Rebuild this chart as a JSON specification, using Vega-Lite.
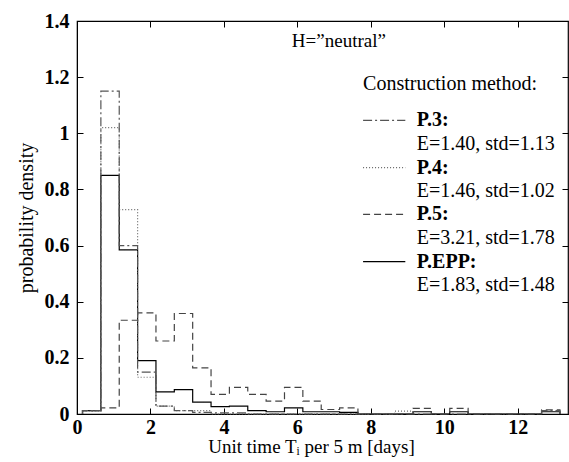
{
  "$schema": "https://vega.github.io/schema/vega-lite/v6.json",
  "width": 491,
  "height": 393,
  "autosize": {"type": "none"},
  "padding": {"left": 77, "top": 21, "right": 1, "bottom": 48},
  "background": "white",
  "config": {
    "view": {"stroke": "black", "strokeWidth": 1.2},
    "font": "Liberation Serif",
    "axis": {"grid": false, "domainColor": "black", "tickColor": "black", "labelColor": "black", "titleColor": "black", "labelFont": "Liberation Serif", "titleFont": "Liberation Serif", "labelFontSize": 20, "labelFontWeight": "bold", "titleFontSize": 19, "titleFontWeight": "normal", "tickSize": -6}
  },
  "datasets": {
    "hist": [
      {"series": "P.EPP", "i": 0, "x": 0.15, "y": 0},
      {"series": "P.EPP", "i": 1, "x": 0.15, "y": 0.012},
      {"series": "P.EPP", "i": 2, "x": 0.65, "y": 0.85},
      {"series": "P.EPP", "i": 3, "x": 1.15, "y": 0.585},
      {"series": "P.EPP", "i": 4, "x": 1.65, "y": 0.19},
      {"series": "P.EPP", "i": 5, "x": 2.15, "y": 0.079},
      {"series": "P.EPP", "i": 6, "x": 2.65, "y": 0.087},
      {"series": "P.EPP", "i": 7, "x": 3.15, "y": 0.042},
      {"series": "P.EPP", "i": 8, "x": 3.65, "y": 0.026},
      {"series": "P.EPP", "i": 9, "x": 4.15, "y": 0.028},
      {"series": "P.EPP", "i": 10, "x": 4.65, "y": 0.012},
      {"series": "P.EPP", "i": 11, "x": 5.15, "y": 0.008},
      {"series": "P.EPP", "i": 12, "x": 5.65, "y": 0.022},
      {"series": "P.EPP", "i": 13, "x": 6.15, "y": 0.008},
      {"series": "P.EPP", "i": 14, "x": 6.65, "y": 0.008},
      {"series": "P.EPP", "i": 15, "x": 7.15, "y": 0.006},
      {"series": "P.EPP", "i": 16, "x": 7.65, "y": 0},
      {"series": "P.EPP", "i": 17, "x": 8.15, "y": 0},
      {"series": "P.EPP", "i": 18, "x": 8.65, "y": 0},
      {"series": "P.EPP", "i": 19, "x": 9.15, "y": 0.008},
      {"series": "P.EPP", "i": 20, "x": 9.65, "y": 0},
      {"series": "P.EPP", "i": 21, "x": 10.15, "y": 0.008},
      {"series": "P.EPP", "i": 22, "x": 10.65, "y": 0},
      {"series": "P.EPP", "i": 23, "x": 12.65, "y": 0.008},
      {"series": "P.EPP", "i": 24, "x": 13.15, "y": 0},

      {"series": "P.5", "i": 0, "x": 0.15, "y": 0},
      {"series": "P.5", "i": 1, "x": 0.15, "y": 0.012},
      {"series": "P.5", "i": 2, "x": 0.65, "y": 0.022},
      {"series": "P.5", "i": 3, "x": 1.15, "y": 0.334},
      {"series": "P.5", "i": 4, "x": 1.65, "y": 0.36},
      {"series": "P.5", "i": 5, "x": 2.15, "y": 0.26},
      {"series": "P.5", "i": 6, "x": 2.65, "y": 0.358},
      {"series": "P.5", "i": 7, "x": 3.15, "y": 0.164},
      {"series": "P.5", "i": 8, "x": 3.65, "y": 0.07},
      {"series": "P.5", "i": 9, "x": 4.15, "y": 0.095},
      {"series": "P.5", "i": 10, "x": 4.65, "y": 0.07},
      {"series": "P.5", "i": 11, "x": 5.15, "y": 0.046},
      {"series": "P.5", "i": 12, "x": 5.65, "y": 0.095},
      {"series": "P.5", "i": 13, "x": 6.15, "y": 0.046},
      {"series": "P.5", "i": 14, "x": 6.65, "y": 0.016},
      {"series": "P.5", "i": 15, "x": 7.15, "y": 0.022},
      {"series": "P.5", "i": 16, "x": 7.65, "y": 0},
      {"series": "P.5", "i": 17, "x": 9.15, "y": 0.02},
      {"series": "P.5", "i": 18, "x": 9.65, "y": 0},
      {"series": "P.5", "i": 19, "x": 10.15, "y": 0.02},
      {"series": "P.5", "i": 20, "x": 10.65, "y": 0},
      {"series": "P.5", "i": 21, "x": 12.65, "y": 0.015},
      {"series": "P.5", "i": 22, "x": 13.15, "y": 0},

      {"series": "P.4", "i": 0, "x": 0.15, "y": 0},
      {"series": "P.4", "i": 1, "x": 0.15, "y": 0.01},
      {"series": "P.4", "i": 2, "x": 0.65, "y": 1.02},
      {"series": "P.4", "i": 3, "x": 1.15, "y": 0.728},
      {"series": "P.4", "i": 4, "x": 1.65, "y": 0.131},
      {"series": "P.4", "i": 5, "x": 2.15, "y": 0.028},
      {"series": "P.4", "i": 6, "x": 2.65, "y": 0.012},
      {"series": "P.4", "i": 7, "x": 3.15, "y": 0.012},
      {"series": "P.4", "i": 8, "x": 3.65, "y": 0},
      {"series": "P.4", "i": 9, "x": 8.65, "y": 0.01},
      {"series": "P.4", "i": 10, "x": 9.15, "y": 0},

      {"series": "P.3", "i": 0, "x": 0.15, "y": 0},
      {"series": "P.3", "i": 1, "x": 0.15, "y": 0.012},
      {"series": "P.3", "i": 2, "x": 0.65, "y": 1.15},
      {"series": "P.3", "i": 3, "x": 1.15, "y": 0.6},
      {"series": "P.3", "i": 4, "x": 1.65, "y": 0.149},
      {"series": "P.3", "i": 5, "x": 2.15, "y": 0.028},
      {"series": "P.3", "i": 6, "x": 2.65, "y": 0.012},
      {"series": "P.3", "i": 7, "x": 3.15, "y": 0.006},
      {"series": "P.3", "i": 8, "x": 3.65, "y": 0.004},
      {"series": "P.3", "i": 9, "x": 4.65, "y": 0},
      {"series": "P.3", "i": 10, "x": 12.65, "y": 0.012},
      {"series": "P.3", "i": 11, "x": 13.15, "y": 0}
    ],
    "legendLines": [
      {"series": "P.3", "x": 7.79, "x2": 8.94, "y": 1.046},
      {"series": "P.4", "x": 7.79, "x2": 8.94, "y": 0.878},
      {"series": "P.5", "x": 7.79, "x2": 8.94, "y": 0.711},
      {"series": "P.EPP", "x": 7.79, "x2": 8.94, "y": 0.543}
    ],
    "legendText": [
      {"t": "H=\u201dneutral\u201d", "x": 5.85, "y": 1.33, "w": "normal", "s": 19},
      {"t": "Construction method:", "x": 7.79, "y": 1.176, "w": "normal", "s": 20},
      {"t": "P.3:", "x": 9.25, "y": 1.046, "w": "bold", "s": 20},
      {"t": "E=1.40, std=1.13", "x": 9.25, "y": 0.962, "w": "normal", "s": 20},
      {"t": "P.4:", "x": 9.25, "y": 0.878, "w": "bold", "s": 20},
      {"t": "E=1.46, std=1.02", "x": 9.25, "y": 0.794, "w": "normal", "s": 20},
      {"t": "P.5:", "x": 9.25, "y": 0.711, "w": "bold", "s": 20},
      {"t": "E=3.21, std=1.78", "x": 9.25, "y": 0.627, "w": "normal", "s": 20},
      {"t": "P.EPP:", "x": 9.25, "y": 0.543, "w": "bold", "s": 20},
      {"t": "E=1.83, std=1.48", "x": 9.25, "y": 0.46, "w": "normal", "s": 20}
    ]
  },
  "resolve": {"scale": {"x": "shared", "y": "shared"}, "axis": {"x": "independent", "y": "independent"}},
  "layer": [
    {
      "data": {"name": "hist"},
      "mark": {"type": "line", "interpolate": "step-after", "strokeWidth": 1.2},
      "encoding": {
        "x": {"field": "x", "type": "quantitative", "scale": {"domain": [0, 13.37], "nice": false, "zero": false},
              "axis": {"values": [0, 2, 4, 6, 8, 10, 12], "title": "Unit time T\u1d62 per 5 m [days]", "labelPadding": 9, "titlePadding": 0, "titleFontSize": 19, "titleX": 234, "labelFlush": false, "labelOverlap": false}},
        "y": {"field": "y", "type": "quantitative", "scale": {"domain": [0, 1.4], "nice": false},
              "axis": {"values": [0, 0.2, 0.4, 0.6, 0.8, 1, 1.2, 1.4], "format": "~g", "title": "probability density", "labelPadding": 14, "titlePadding": 8, "titleFontSize": 20, "labelFlush": false, "labelOverlap": false}},
        "detail": {"field": "series"},
        "order": {"field": "i", "type": "quantitative"},
        "color": {"field": "series", "type": "nominal", "scale": {"domain": ["P.3", "P.4", "P.5", "P.EPP"], "range": ["#555555", "#666666", "#444444", "#000000"]}, "legend": null},
        "strokeDash": {"field": "series", "type": "nominal", "scale": {"domain": ["P.3", "P.4", "P.5", "P.EPP"], "range": [[9, 3, 2, 3], [1, 2], [7, 4], [1, 0]]}, "legend": null}
      }
    },
    {
      "data": {"name": "legendLines"},
      "mark": {"type": "rule", "strokeWidth": 1.2},
      "encoding": {
        "x": {"field": "x", "type": "quantitative", "axis": {"orient": "top", "values": [0, 2, 4, 6, 8, 10, 12], "labels": false, "title": null, "domain": false}},
        "x2": {"field": "x2"},
        "y": {"field": "y", "type": "quantitative", "axis": {"orient": "right", "values": [0, 0.2, 0.4, 0.6, 0.8, 1, 1.2, 1.4], "labels": false, "title": null, "domain": false}},
        "color": {"field": "series", "type": "nominal", "legend": null},
        "strokeDash": {"field": "series", "type": "nominal", "legend": null}
      }
    },
    {
      "data": {"name": "legendText"},
      "transform": [{"filter": "datum.w === 'normal'"}],
      "mark": {"type": "text", "align": "left", "baseline": "middle", "font": "Liberation Serif", "color": "black", "fontWeight": "normal"},
      "encoding": {
        "x": {"field": "x", "type": "quantitative", "axis": null},
        "y": {"field": "y", "type": "quantitative", "axis": null},
        "text": {"field": "t"},
        "size": {"field": "s", "type": "quantitative", "scale": null}
      }
    },
    {
      "data": {"name": "legendText"},
      "transform": [{"filter": "datum.w === 'bold'"}],
      "mark": {"type": "text", "align": "left", "baseline": "middle", "font": "Liberation Serif", "color": "black", "fontWeight": "bold"},
      "encoding": {
        "x": {"field": "x", "type": "quantitative", "axis": null},
        "y": {"field": "y", "type": "quantitative", "axis": null},
        "text": {"field": "t"},
        "size": {"field": "s", "type": "quantitative", "scale": null}
      }
    }
  ]
}
